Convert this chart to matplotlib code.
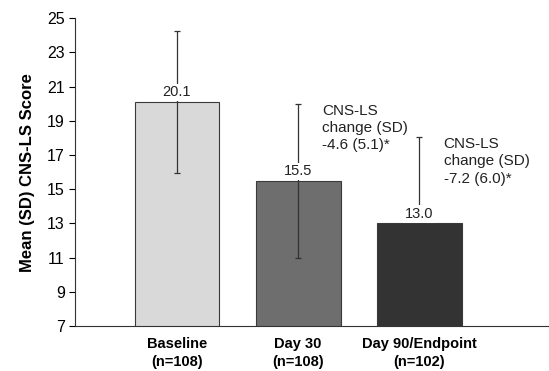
import matplotlib.pyplot as plt
import numpy as np

plt.rcParams['font.family'] = ['Liberation Sans', 'DejaVu Sans']

# Data
categories = ['Baseline\n(n=108)', 'Day 30\n(n=108)', 'Day 90/Endpoint\n(n=102)']
means = [20.1, 15.5, 13.0]
sds = [4.15, 4.5, 5.05]
value_labels = ['20.1', '15.5', '13.0']
change_notes = ['', 'CNS-LS\nchange (SD)\n-4.6 (5.1)*', 'CNS-LS\nchange (SD)\n-7.2 (6.0)*']
colors = ['#d9d9d9', '#6e6e6e', '#333333']

x = np.arange(len(categories))

fig = plt.figure(figsize=(5.49, 3.71), dpi=100)
ax = fig.add_axes([0.137, 0.121, 0.863, 0.830])

ax.bar(x, means, width=0.7, bottom=0, color=colors, edgecolor='#3a3a3a', linewidth=0.8, zorder=2)
ax.errorbar(x, means, yerr=sds, fmt='none', ecolor='#333333', elinewidth=0.9,
            capsize=2.5, capthick=0.9, zorder=3)

# value labels sit on a white box that hides the error bar line
for xi, m, lab in zip(x, means, value_labels):
    ax.text(xi, m + 0.15, lab, ha='center', va='bottom', fontsize=10.5, color='#222222', zorder=4,
            bbox=dict(facecolor='white', edgecolor='none', pad=1.2))

# change annotations next to the upper error bar
for xi, m, s, note in zip(x, means, sds, change_notes):
    if note:
        ax.text(xi + 0.2, m + s, note, ha='left', va='top', fontsize=11,
                color='#222222', linespacing=1.3)

ax.set_ylim(7, 25)
ax.set_yticks(np.arange(7, 26, 2))
ax.set_xlim(-0.84, 3.07)
ax.set_xticks(x)
ax.set_xticklabels(categories, fontweight='bold', fontsize=10.5, linespacing=1.35)
ax.tick_params(axis='x', length=0, pad=8)
ax.tick_params(axis='y', direction='out', length=4, labelsize=11.5, width=0.8)
ax.set_ylabel('Mean (SD) CNS-LS Score', fontweight='bold', fontsize=12, labelpad=9)

for side in ['top', 'right']:
    ax.spines[side].set_visible(False)
ax.spines['left'].set_color('#333333')
ax.spines['bottom'].set_color('#333333')

fig.savefig('out.png', dpi=100)
